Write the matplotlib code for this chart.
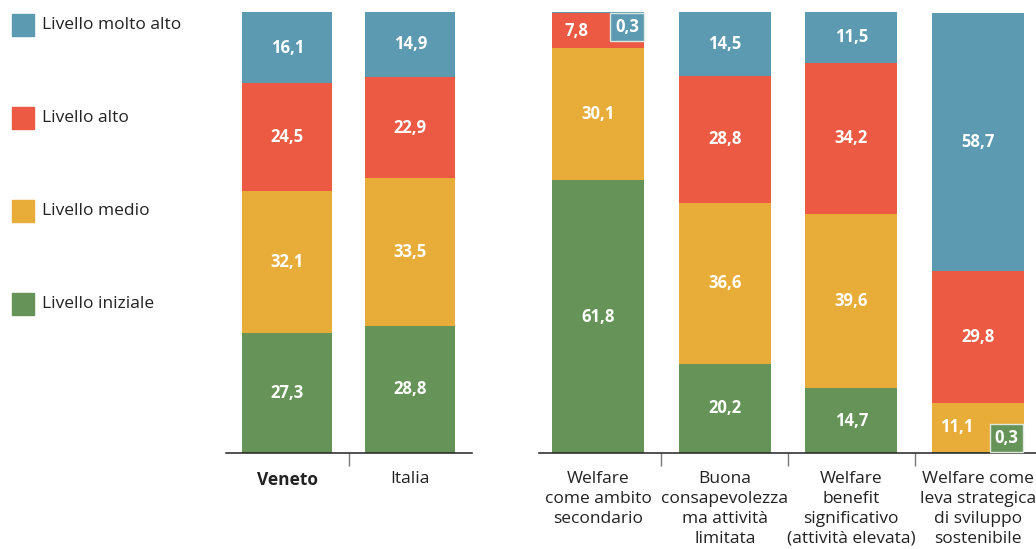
import matplotlib.pyplot as plt
from matplotlib.patches import Rectangle

plt.rcParams['font.family'] = ['Open Sans', 'DejaVu Sans']

levels = ['Livello iniziale', 'Livello medio', 'Livello alto', 'Livello molto alto']
colors = ['#669358', '#e8ac38', '#ec5a43', '#5b9ab1']

# territorio
areas = ['Veneto', 'Italia']
iniziale_area = [27.3, 28.8]
medio_area = [32.1, 33.5]
alto_area = [24.5, 22.9]
molto_alto_area = [16.1, 14.9]

# cluster di imprese
clusters = ['Welfare\ncome ambito\nsecondario',
            'Buona\nconsapevolezza\nma attività\nlimitata',
            'Welfare\nbenefit\nsignificativo\n(attività elevata)',
            'Welfare come\nleva strategica\ndi sviluppo\nsostenibile']
iniziale_cl = [61.8, 20.2, 14.7, 0.3]
medio_cl = [30.1, 36.6, 39.6, 11.1]
alto_cl = [7.8, 28.8, 34.2, 29.8]
molto_alto_cl = [0.3, 14.5, 11.5, 58.7]

W = 0.73
LBL = dict(color='white', fontsize=12, fontweight='bold')


def fmt(v):
    return f'{v:.1f}'.replace('.', ',')


def stacked(ax, series, n):
    bottoms = [0.0] * n
    for k, (vals, c) in enumerate(zip(series, colors)):
        ax.bar(range(n), vals, W, bottom=bottoms, color=c, linewidth=0)
        for i, v in enumerate(vals):
            box = dict(boxstyle='square,pad=0.3', fc=c, ec='#dde8e0', lw=1)
            if v < 1:
                # tiny segments get a boxed label at the bar's edge
                top = bottoms[i] + v
                if top > 99:
                    ax.annotate(fmt(v), (i + W / 2, top), xytext=(-4, -4),
                                textcoords='offset points', ha='right', va='top',
                                bbox=box, **LBL)
                else:
                    ax.annotate(fmt(v), (i + W / 2, bottoms[i]), xytext=(-4, 4),
                                textcoords='offset points', ha='right', va='bottom',
                                bbox=box, **LBL)
            else:
                # make room for a boxed neighbour
                near = [series[j][i] for j in (k - 1, k + 1) if 0 <= j < len(series)]
                shift = -0.17 if any(x < 1 for x in near) else 0
                ax.text(i + shift, bottoms[i] + v / 2, fmt(v), ha='center',
                        va='center', **LBL)
            bottoms[i] += v
    ax.set_ylim(0, 100)
    ax.set_yticks([])
    for s in ['top', 'right', 'left']:
        ax.spines[s].set_visible(False)
    ax.spines['bottom'].set_linewidth(1.1)
    ax.spines['bottom'].set_color('#222222')
    ax.set_xticks(range(n))
    ax.tick_params(axis='x', which='major', length=0, pad=13, labelsize=12.5,
                   labelcolor='#222222')
    ax.set_xticks([i + 0.5 for i in range(n - 1)], minor=True)
    ax.tick_params(axis='x', which='minor', length=9, width=1, color='#777777')


fig = plt.figure(figsize=(10.36, 5.49), dpi=100)

ax1 = fig.add_axes([0.218, 0.175, 0.2375, 0.803])
stacked(ax1, [iniziale_area, medio_area, alto_area, molto_alto_area], 2)
ax1.set_xlim(-0.5, 1.5)
ax1.set_xticklabels(areas)
ax1.get_xticklabels()[0].set_fontweight('bold')

ax2 = fig.add_axes([0.520, 0.175, 0.48, 0.803])
stacked(ax2, [iniziale_cl, medio_cl, alto_cl, molto_alto_cl], 4)
ax2.set_xlim(-0.47, 3.46)
ax2.set_xticklabels(clusters, linespacing=1.33, va='top')

# legenda
leg_y = [25, 118, 211, 304]
for name, c, yy in zip(levels[::-1], colors[::-1], leg_y):
    fy = 1 - yy / 549
    fig.patches.append(Rectangle((12 / 1036, fy - 11 / 549), 22 / 1036, 22 / 549,
                                 transform=fig.transFigure, color=c))
    fig.text(42 / 1036, fy, name, ha='left', va='center', fontsize=12.5, color='#222222')

fig.savefig('out.png', dpi=100)
